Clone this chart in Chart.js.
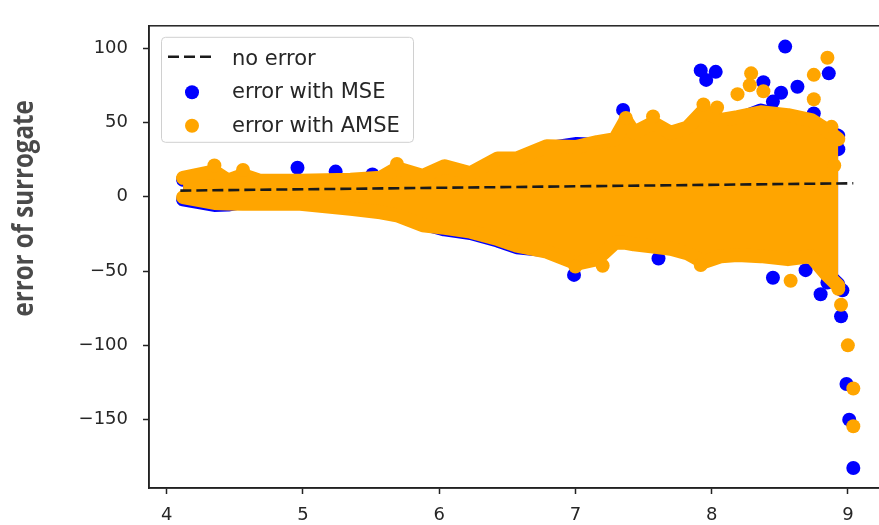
<!DOCTYPE html>
<html>
<head>
<meta charset="utf-8">
<title>error of surrogate</title>
<script src="https://cdn.jsdelivr.net/npm/chart.js@4.4.1/dist/chart.umd.min.js"></script>
<style>
    html, body { margin: 0; padding: 0; background: #ffffff; overflow: hidden; }
    #wrap { width: 879px; height: 525px; overflow: hidden; position: relative; }
</style>
</head>
<body>
<div id="wrap"><canvas id="errChart" width="900" height="525"></canvas></div>
<script>
// axis ticks
const xTicks = [4, 5, 6, 7, 8, 9];
const yTicks = [100, 50, 0, -50, -100, -150];
const yAxisTitle = 'error of surrogate';

// "no error" reference line
const noErrorX = [4.1, 9.04];
const noErrorY = [4.1, 9.04];

// dense band of points, read as upper / lower envelope of the point centres
const bandX = [4.12, 4.35, 4.45, 4.56, 4.68, 4.98, 5.35, 5.57, 5.69, 5.88, 6.04, 6.23, 6.43, 6.57, 6.79,
    7.01, 7.16, 7.29, 7.37, 7.43, 7.57, 7.70, 7.82, 7.94, 8.07, 8.19, 8.36, 8.56, 8.73, 8.84, 8.93];
const amseUpper = [12.7, 17, 10.8, 14.6, 10.8, 10.8, 11.4, 12.7, 19.2, 14, 20.5, 15.8, 25.7, 25.7, 34,
    33.5, 36.7, 38.7, 51.7, 43, 49.7, 43, 46.4, 58, 51.7, 53.6, 56.8, 54.9, 51.6, 45.2, 38.7];
const amseLower = [-0.3, -4.2, -4.5, -4.8, -4.8, -4.8, -8.1, -10.5, -12.5, -19.2, -21, -23.5, -28.5, -33, -37,
    -45, -42, -31, -31, -32, -33.5, -35, -38, -44, -40, -39.3, -40, -42, -40, -52, -60];
const mseUpper = [11.5, 15.5, 9.5, 13, 9.5, 9.5, 10, 11.5, 17.5, 12.5, 19, 14.5, 24, 24, 32.5,
    35.5, 35, 37, 50, 41.5, 48, 41.5, 45, 56, 50, 52, 58, 53.5, 50, 44, 41];
const mseLower = [-1.8, -5.5, -5.3, -3.5, -3.5, -3.5, -7, -9.5, -11.5, -18, -22, -24.5, -29.5, -34, -36,
    -44, -41, -30, -30, -31, -32.5, -34, -37, -43, -39, -38.3, -39, -41, -39, -51, -59];

// single points standing out of the band
const mseOutX = [4.96, 5.24, 5.51, 7.0, 7.35, 7.92, 7.96, 8.03, 8.38, 8.45, 8.51, 8.54, 8.63, 8.75, 8.86,
    8.93, 6.99, 7.61, 8.45, 8.69, 8.80, 8.85, 8.96, 8.95, 8.99, 9.01, 9.04];
const mseOutY = [19.5, 16.9, 15, 35, 58.4, 85, 78.6, 84, 77, 64, 70, 101, 74, 56, 83,
    32, -52.6, -41.6, -54.5, -49.4, -65.6, -57.8, -63, -80.5, -126, -150, -182.5];
const amseOutX = [4.35, 4.56, 5.69, 7.37, 7.57, 7.94, 8.04, 8.19, 8.28, 8.29, 8.38, 8.75, 8.75, 8.85, 8.88,
    8.90, 7.0, 7.2, 7.92, 8.58, 8.93, 8.95, 9.0, 9.04, 9.04];
const amseOutY = [21, 18, 22, 53, 54, 62, 60, 69, 75, 83, 71, 82, 65.6, 93.5, 47,
    21, -47, -46.5, -46, -56.5, -62, -72.7, -100, -129, -154.5];

const BLUE = '#0000ff';
const ORANGE = '#ffa500';
const INK = '#262626';

function pts(xs, ys) {
    return xs.map((x, i) => ({ x: x, y: ys[i] }));
}

function minusLabel(v) {
    return v < 0 ? '\u2212' + Math.abs(v) : String(v);
}

// frame on all four sides of the plot
const framePlugin = {
    id: 'frame',
    afterDatasetsDraw(chart) {
        const a = chart.chartArea;
        const ctx = chart.ctx;
        ctx.save();
        ctx.strokeStyle = '#222222';
        ctx.lineWidth = 1.5;
        ctx.strokeRect(a.left, a.top, a.right - a.left, a.bottom - a.top);
        ctx.restore();
    }
};

// rotated bold axis title on the left
const yTitlePlugin = {
    id: 'yTitle',
    afterDraw(chart) {
        const ctx = chart.ctx;
        const a = chart.chartArea;
        ctx.save();
        ctx.translate(33, a.top + (a.bottom - a.top) * 0.395);
        ctx.rotate(-Math.PI / 2);
        ctx.scale(0.86, 1);
        ctx.font = 'bold 28px "Open Sans"';
        ctx.fillStyle = '#4a4a4a';
        ctx.textAlign = 'center';
        ctx.textBaseline = 'alphabetic';
        ctx.fillText(yAxisTitle, 0, 0);
        ctx.restore();
    }
};

// matplotlib style legend box in the upper left corner
const legendPlugin = {
    id: 'boxLegend',
    afterDraw(chart) {
        const ctx = chart.ctx;
        const a = chart.chartArea;
        const left = a.left + 12;
        const top = a.top + 11;
        const w = 252, h = 105;
        ctx.save();
        ctx.beginPath();
        ctx.roundRect(left + 0.5, top + 0.5, w, h, 4);
        ctx.fillStyle = 'rgba(255,255,255,0.85)';
        ctx.fill();
        ctx.strokeStyle = '#d0d0d0';
        ctx.lineWidth = 1;
        ctx.stroke();

        const items = chart.data.datasets.filter(d => d.inLegend);
        ctx.font = '21px "DejaVu Sans"';
        ctx.fillStyle = INK;
        ctx.textBaseline = 'alphabetic';
        items.forEach((d, i) => {
            const cy = top + 20 + i * 33.5;
            if (d.showLine) {
                ctx.save();
                ctx.strokeStyle = d.borderColor;
                ctx.lineWidth = d.borderWidth;
                ctx.setLineDash(d.borderDash);
                ctx.beginPath();
                ctx.moveTo(left + 7, cy);
                ctx.lineTo(left + 51, cy);
                ctx.stroke();
                ctx.restore();
            } else {
                ctx.beginPath();
                ctx.arc(left + 31, cy + 2, 7, 0, Math.PI * 2);
                ctx.fillStyle = d.backgroundColor;
                ctx.fill();
            }
            ctx.fillStyle = INK;
            ctx.fillText(d.label, left + 71, cy + 8);
        });
        ctx.restore();
    }
};

const bandLine = (color, data, fill, order, label) => ({
    label: label,
    data: data,
    showLine: true,
    borderColor: color,
    backgroundColor: color,
    borderWidth: 14,
    borderJoinStyle: 'round',
    borderCapStyle: 'round',
    pointRadius: 0,
    tension: 0,
    fill: fill,
    order: order
});

const config = {
    type: 'scatter',
    data: {
        datasets: [
            {
                label: 'no error',
                inLegend: true,
                data: pts(noErrorX, noErrorY),
                showLine: true,
                borderColor: '#1a1a1a',
                borderWidth: 2.6,
                borderDash: [11, 5],
                pointRadius: 0,
                fill: false,
                order: 0
            },
            {
                label: 'error with MSE',
                inLegend: true,
                data: pts(mseOutX, mseOutY),
                backgroundColor: BLUE,
                borderWidth: 0,
                pointRadius: 7,
                order: 2
            },
            bandLine(BLUE, pts(bandX, mseUpper), false, 2, 'MSE upper'),
            bandLine(BLUE, pts(bandX, mseLower), '-1', 2, 'MSE lower'),
            {
                label: 'error with AMSE',
                inLegend: true,
                data: pts(amseOutX, amseOutY),
                backgroundColor: ORANGE,
                borderWidth: 0,
                pointRadius: 7,
                order: 1
            },
            bandLine(ORANGE, pts(bandX, amseUpper), false, 1, 'AMSE upper'),
            bandLine(ORANGE, pts(bandX, amseLower), '-1', 1, 'AMSE lower')
        ]
    },
    options: {
        responsive: false,
        animation: false,
        layout: { padding: { top: 9, right: 14, left: 0, bottom: 0 } },
        plugins: {
            legend: { display: false },
            tooltip: { enabled: false },
            title: { display: false }
        },
        scales: {
            x: {
                type: 'linear',
                min: 3.87,
                max: 9.28,
                afterBuildTicks: s => { s.ticks = xTicks.map(v => ({ value: v })); },
                afterFit: s => { s.height = 37; },
                grid: { drawOnChartArea: false, drawTicks: true, tickLength: 6, tickWidth: 1.5, tickColor: '#222222' },
                border: { display: true, color: '#222222', width: 1.5 },
                ticks: {
                    padding: 11,
                    color: INK,
                    font: { family: '"DejaVu Sans"', size: 18 },
                    callback: v => minusLabel(v)
                }
            },
            y: {
                type: 'linear',
                min: -196,
                max: 115,
                afterBuildTicks: s => { s.ticks = yTicks.map(v => ({ value: v })); },
                afterFit: s => { s.width = 149; },
                grid: { drawOnChartArea: false, drawTicks: true, tickLength: 6, tickWidth: 1.5, tickColor: '#222222' },
                border: { display: true, color: '#222222', width: 1.5 },
                ticks: {
                    padding: 15,
                    color: INK,
                    font: { family: '"DejaVu Sans"', size: 18 },
                    callback: v => minusLabel(v)
                }
            }
        }
    },
    plugins: [framePlugin, yTitlePlugin, legendPlugin]
};

const errChart = new Chart(document.getElementById('errChart'), config);
</script>
</body>
</html>
